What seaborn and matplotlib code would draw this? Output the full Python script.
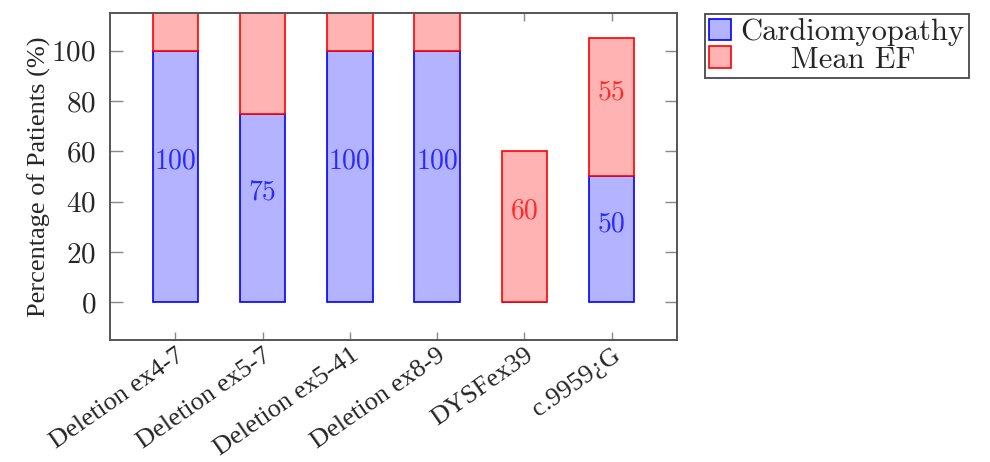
# stacked bar chart of cardiomyopathy share and mean EF per mutation
import numpy as np
import pandas as pd
import seaborn as sns
import matplotlib.pyplot as plt

# data
mutations = ["Deletion ex4-7", "Deletion ex5-7", "Deletion ex5-41", "Deletion ex8-9", "DYSFex39", "c.9959¿G"]
cardiomyopathy = [100, 75, 100, 100, 0, 50]
mean_ef = [60, 85, 60, 60, 60, 55]
y_ticks = [0, 20, 40, 60, 80, 100]

df = pd.DataFrame({"Mutation": mutations, "Cardiomyopathy": cardiomyopathy, "Mean EF": mean_ef})

sns.set_style("ticks")
plt.rcParams["axes.formatter.use_mathtext"] = True

blue_fill = "#b3b3ff"
red_fill = "#ffb3b3"
frame_col = "#555555"

fig = plt.figure(figsize=(9.9, 4.62), dpi=100)
ax = fig.add_axes([0.111, 0.264, 0.573, 0.708])

# bottom series
sns.barplot(data=df, x="Mutation", y="Cardiomyopathy", order=mutations, color=blue_fill,
            width=0.52, edgecolor="blue", linewidth=1.2, saturation=1, ax=ax,
            label="Cardiomyopathy")
# stacked series
sns.barplot(data=df, x="Mutation", y="Mean EF", order=mutations, color=red_fill,
            width=0.52, edgecolor="red", linewidth=1.2, saturation=1, ax=ax,
            bottom=df["Cardiomyopathy"].values, label="Mean EF")

ax.set_xlim(-0.75, 5.75)
ax.set_ylim(-15, 115)
ax.set_yticks(y_ticks)

# value labels at the middle of each segment
for i, row in df.iterrows():
    c = row["Cardiomyopathy"]
    e = row["Mean EF"]
    if c > 0:
        ax.annotate(str(c), xy=(i, c / 2), xytext=(0, 11), textcoords="offset points",
                    ha="center", va="center", color="#2a2aff", fontsize=20,
                    family="cmr10", annotation_clip=True)
    if e > 0:
        ax.annotate(str(e), xy=(i, c + e / 2), xytext=(0, 11), textcoords="offset points",
                    ha="center", va="center", color="#ff2a2a", fontsize=20,
                    family="cmr10", annotation_clip=True)

# pgfplots-like frame
for sp in ax.spines.values():
    sp.set_color(frame_col)
    sp.set_linewidth(1.4)
ax.tick_params(axis="y", direction="in", length=9, width=1, color="#888888",
               left=True, right=True, labelsize=21, pad=10)
ax.tick_params(axis="x", direction="in", length=6, width=1, color="#888888",
               bottom=True, top=True, labelsize=19, pad=3)
for lab in ax.get_yticklabels():
    lab.set_family("cmr10")
ax.set_xticks(range(len(mutations)))
ax.set_xticklabels(mutations, rotation=35, ha="right", rotation_mode="anchor",
                   family="Liberation Serif")
ax.set_xlabel("")
ax.set_ylabel("Percentage of Patients (%)")
ax.yaxis.label.set_family("Liberation Serif")
ax.yaxis.label.set_fontsize(19)
ax.yaxis.labelpad = 0

leg = ax.legend(loc="upper left", bbox_to_anchor=(0.712, 0.97), bbox_transform=fig.transFigure,
                frameon=True, fancybox=False, edgecolor=frame_col, framealpha=1,
                prop={"family": "cmr10", "size": 22}, handlelength=0.7, handleheight=0.7,
                handletextpad=0.3, borderpad=0.15, labelspacing=0.0, borderaxespad=0)
leg.get_frame().set_linewidth(1.4)
leg.get_texts()[1].set_text("     Mean EF")

fig.savefig("out.png", dpi=100)
